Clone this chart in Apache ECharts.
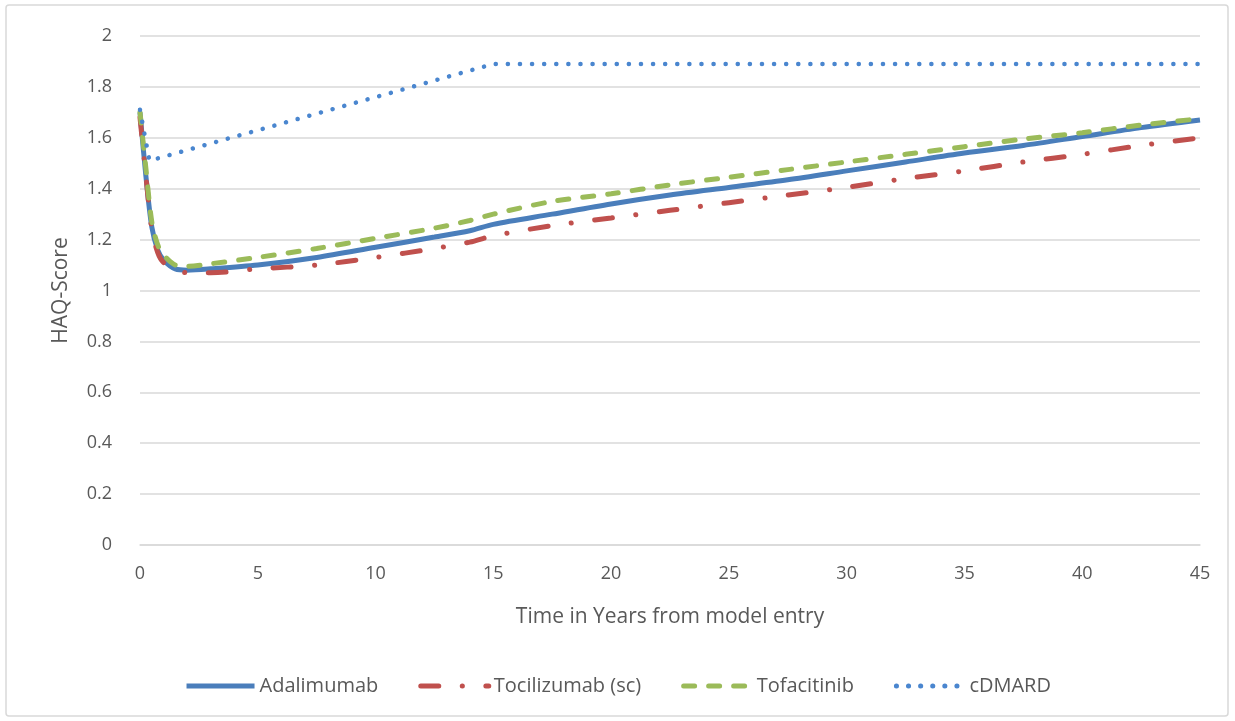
<!DOCTYPE html>
<html>
<head>
<meta charset="utf-8">
<script src="https://cdn.jsdelivr.net/npm/echarts@6/dist/echarts.min.js"></script>
<style>
  html, body { margin: 0; padding: 0; background: #fff; }
  #chart { width: 1235px; height: 721px; }
</style>
</head>
<body>
<div id="chart"></div>
<script>
// years from model entry
const years = [0, 0.25, 0.5, 0.75, 1, 1.5, 2, 3, 5, 7.5, 10, 12.5, 14, 15, 17.5, 20, 22.5, 25, 27.5, 30, 32.5, 35, 37.5, 40, 42.5, 45]
const adalimumab = [1.70, 1.45, 1.25, 1.16, 1.12, 1.085, 1.08, 1.085, 1.10, 1.13, 1.17, 1.21, 1.235, 1.26, 1.30, 1.34, 1.375, 1.405, 1.435, 1.47, 1.505, 1.54, 1.57, 1.605, 1.64, 1.67]
const tocilizumab = [1.68, 1.45, 1.24, 1.15, 1.11, 1.08, 1.07, 1.07, 1.085, 1.10, 1.13, 1.165, 1.19, 1.215, 1.255, 1.285, 1.315, 1.345, 1.375, 1.405, 1.44, 1.47, 1.505, 1.535, 1.57, 1.60]
const tofacitinib = [1.70, 1.48, 1.27, 1.18, 1.14, 1.10, 1.095, 1.105, 1.13, 1.165, 1.205, 1.245, 1.275, 1.30, 1.35, 1.38, 1.415, 1.445, 1.475, 1.505, 1.535, 1.565, 1.595, 1.62, 1.65, 1.675]
const cdmardYears = [0, 0.4, 15, 45]
const cdmard = [1.71, 1.51, 1.89, 1.89]

const pairs = (xs, ys) => xs.map((x, i) => [x, ys[i]])

const labelColor = '#595959'
const font = 'Open Sans'

const chart = echarts.init(document.getElementById('chart'))

chart.setOption({
  animation: false,
  textStyle: { fontFamily: font },
  graphic: [
    {
      type: 'rect',
      shape: { x: 6, y: 5, width: 1222, height: 711, r: 3 },
      style: { fill: 'none', stroke: '#d9d9d9', lineWidth: 1.5 },
      silent: true,
    },
  ],
  grid: { left: 140, right: 35, top: 36, bottom: 176 },
  legend: {
    bottom: 20,
    left: 'center',
    itemWidth: 68,
    itemHeight: 14,
    itemGap: 40,
    itemStyle: { opacity: 0 },
    lineStyle: { width: 5 },
    textStyle: { color: labelColor, fontSize: 20, fontFamily: font },
  },
  xAxis: {
    type: 'value',
    min: 0,
    max: 45,
    interval: 5,
    name: 'Time in Years from model entry',
    nameLocation: 'middle',
    nameGap: 62,
    nameTextStyle: { color: labelColor, fontSize: 21 },
    axisLine: { show: true, lineStyle: { color: '#d9d9d9', width: 1.5 } },
    axisTick: { show: false },
    axisLabel: { color: labelColor, fontSize: 18, margin: 20 },
    splitLine: { show: false },
  },
  yAxis: {
    type: 'value',
    min: 0,
    max: 2,
    interval: 0.2,
    name: 'HAQ-Score',
    nameLocation: 'middle',
    nameGap: 68,
    nameTextStyle: { color: labelColor, fontSize: 21 },
    axisLine: { show: false },
    axisTick: { show: false },
    axisLabel: { color: labelColor, fontSize: 18, margin: 28 },
    splitLine: { lineStyle: { color: '#d9d9d9', width: 1.5 } },
  },
  series: [
    {
      name: 'Adalimumab',
      type: 'line',
      data: pairs(years, adalimumab),
      showSymbol: false,
      symbol: 'none',
      smooth: 0.3,
      color: '#4a7ebb',
      lineStyle: { width: 5, color: '#4a7ebb' },
    },
    {
      name: 'Tocilizumab (sc)',
      type: 'line',
      data: pairs(years, tocilizumab),
      showSymbol: false,
      symbol: 'none',
      smooth: 0.3,
      color: '#c0504d',
      lineStyle: { width: 5, color: '#c0504d', type: [18, 23.5, 0.1, 23.5], cap: 'round' },
    },
    {
      name: 'Tofacitinib',
      type: 'line',
      data: pairs(years, tofacitinib),
      showSymbol: false,
      symbol: 'none',
      smooth: 0.3,
      color: '#9bbb59',
      lineStyle: { width: 5, color: '#9bbb59', type: [11, 14], cap: 'round' },
    },
    {
      name: 'cDMARD',
      type: 'line',
      data: pairs(cdmardYears, cdmard),
      showSymbol: false,
      symbol: 'none',
      color: '#4a86cf',
      lineStyle: { width: 4.5, color: '#4a86cf', type: [0.1, 12], cap: 'round' },
    },
  ],
})
</script>
</body>
</html>
